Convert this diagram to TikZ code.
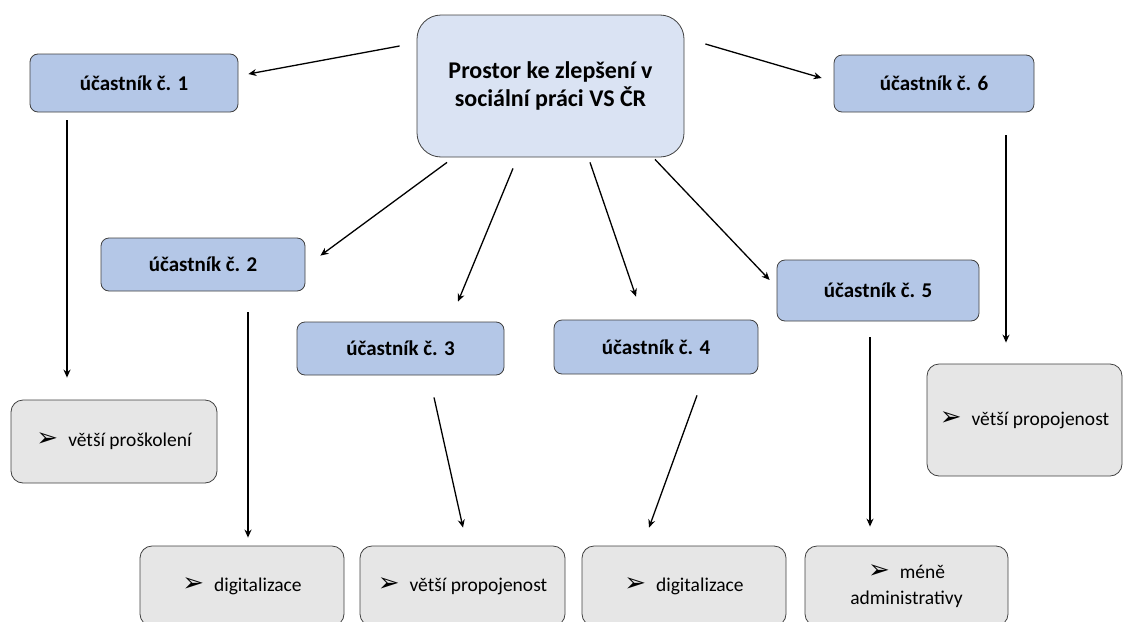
\documentclass[tikz,border=0pt]{standalone}
\usepackage{fontspec}
\setmainfont{Carlito}
\newfontfamily\symfont{DejaVu Sans}
\usetikzlibrary{arrows.meta}
\definecolor{hlavnifill}{HTML}{DAE3F3}
\definecolor{ucastfill}{HTML}{B4C7E7}
\definecolor{sedfill}{HTML}{E6E6E6}
\definecolor{okraj}{HTML}{404040}
\newcommand{\odr}{{\symfont\fontsize{26}{26}\selectfont ➢}\hspace{10pt}}

\begin{document}
\begin{tikzpicture}[x=1pt,y=-1pt]
	\tikzstyle{hlavni} = [draw=okraj, line width=0.8pt, fill=hlavnifill, rounded corners=24pt, minimum width=267pt, minimum height=142pt, align=center, font=\fontsize{24}{28}\selectfont\bfseries]
	\tikzstyle{ucastnik} = [draw=okraj, line width=0.8pt, fill=ucastfill, rounded corners=8pt, minimum height=55pt, font=\fontsize{21}{24}\selectfont\bfseries]
	\tikzstyle{bod} = [draw=okraj, line width=0.8pt, fill=sedfill, rounded corners=12pt, minimum width=205pt, align=center, font=\fontsize{19.5}{26}\selectfont]
	\tikzstyle{sipka} = [line width=1.3pt, -{Stealth[length=8pt,width=7pt]}]
	\useasboundingbox (0,0) rectangle (1123,621);
	% hlavni uzel
	\node[hlavni] (stred) at (550.5,86) {Prostor ke zlepšení v\\sociální práci VS ČR};
	% ucastnici
	\node[ucastnik, minimum width=208pt, minimum height=58pt] (u1) at (134,83) {účastník č. 1};
	\node[ucastnik, minimum width=204pt, minimum height=53pt] (u2) at (203,264.5) {účastník č. 2};
	\node[ucastnik, minimum width=207pt, minimum height=53pt] (u3) at (400.5,348.5) {účastník č. 3};
	\node[ucastnik, minimum width=204pt, minimum height=54pt] (u4) at (656,347) {účastník č. 4};
	\node[ucastnik, minimum width=202pt, minimum height=61pt] (u5) at (878,290.5) {účastník č. 5};
	\node[ucastnik, minimum width=200pt, minimum height=57pt] (u6) at (934,83.5) {účastník č. 6};
	% odpovedi
	\node[bod, minimum width=206pt, minimum height=83pt] (b1) at (114,441.5) {\odr větší proškolení};
	\node[bod, minimum width=204pt, minimum height=80pt] (b2) at (242,586) {\odr digitalizace};
	\node[bod, minimum width=205pt, minimum height=80pt] (b3) at (462.5,586) {\odr větší propojenost};
	\node[bod, minimum width=204pt, minimum height=80pt] (b4) at (684,586) {\odr digitalizace};
	\node[bod, minimum width=203pt, minimum height=80pt] (b5) at (906.5,586) {\odr méně\\administrativy};
	\node[bod, minimum width=195pt, minimum height=112pt] (b6) at (1024.5,420) {\odr větší propojenost};
	% sipky od stredu
	\draw[sipka] ([xshift=-17pt,yshift=40pt]stred.west) -- ([xshift=10pt,yshift=9pt]u1.east);
	\draw[sipka] ([xshift=21pt,yshift=42pt]stred.east) -- ([xshift=-12pt,yshift=5.5pt]u6.west);
	\draw[sipka] ([xshift=-103.5pt,yshift=-5pt]stred.south) -- ([xshift=15pt,yshift=-18pt]u2.north east);
	\draw[sipka] ([xshift=-37.5pt,yshift=-11pt]stred.south) -- ([xshift=57.5pt,yshift=20pt]u3.north);
	\draw[sipka] ([xshift=39.5pt,yshift=-5pt]stred.south) -- ([xshift=-20pt,yshift=23pt]u4.north);
	\draw[sipka] ([xshift=104.5pt,yshift=-2pt]stred.south) -- ([xshift=-7pt,yshift=10.5pt]u5.west);
	% sipky k odpovedim
	\draw[sipka] ([xshift=-67pt,yshift=-8pt]u1.south) -- ([xshift=-47pt,yshift=22pt]b1.north);
	\draw[sipka] ([xshift=45pt,yshift=-21pt]u2.south) -- ([xshift=6pt,yshift=8pt]b2.north);
	\draw[sipka] ([xshift=33.5pt,yshift=-22pt]u3.south) -- ([xshift=0.5pt,yshift=18pt]b3.north);
	\draw[sipka] ([xshift=41pt,yshift=-21pt]u4.south) -- ([xshift=-35pt,yshift=18pt]b4.north);
	\draw[sipka] ([xshift=-8pt,yshift=-16pt]u5.south) -- ([xshift=-36.5pt,yshift=19pt]b5.north);
	\draw[sipka] ([xshift=72pt,yshift=-23pt]u6.south) -- ([xshift=-18.5pt,yshift=21pt]b6.north);
\end{tikzpicture}
\end{document}
